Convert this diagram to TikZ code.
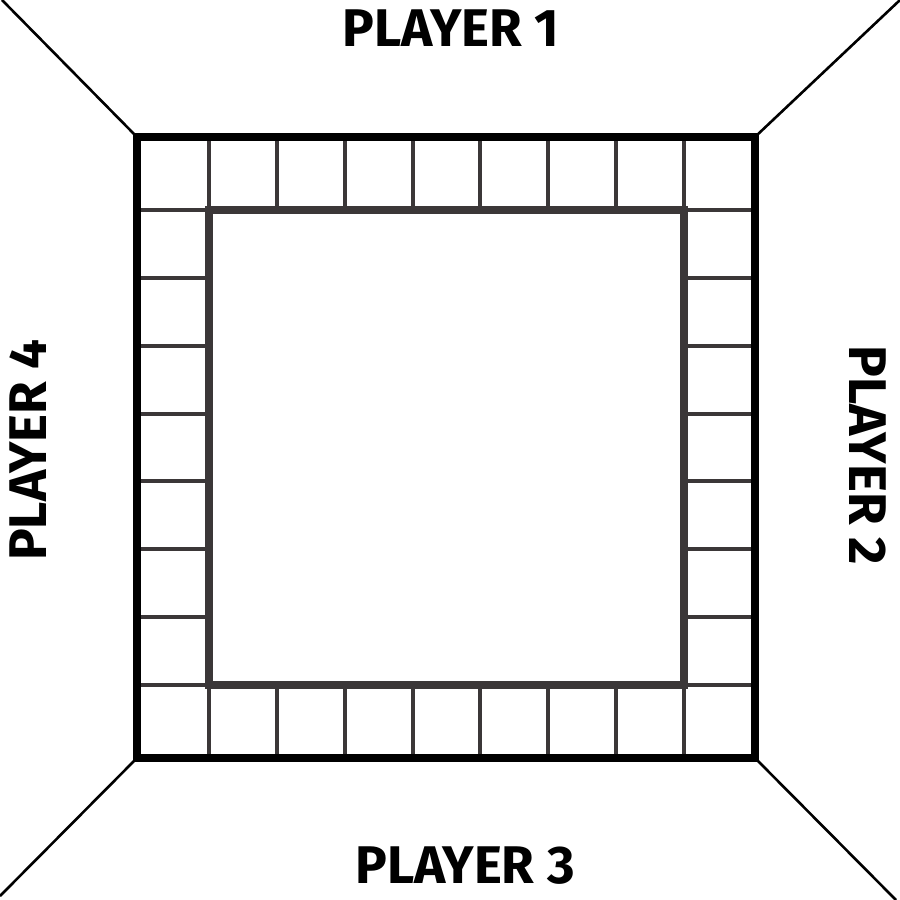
\documentclass[tikz,border=0pt]{standalone}
\usepackage{fontspec}
\setmainfont{Fira Sans}
\definecolor{boardgray}{HTML}{3B3738}
\begin{document}
\begin{tikzpicture}[x=1pt,y=-1pt,
  outer/.style={line width=8pt,draw=black},
  inner/.style={line width=7.5pt,draw=boardgray},
  cell/.style={line width=4pt,draw=boardgray,line cap=round},
  diag/.style={line width=2.6pt,draw=black},
  lbl/.style={font=\fontsize{53}{56}\selectfont\bfseries,inner sep=0pt}]
\useasboundingbox (0,0) rectangle (900,900);
% diagonals
\draw[diag] (2,0) -- (136,136);
\draw[diag] (900,0) -- (756,136);
\draw[diag] (136,759) -- (0,896);
\draw[diag] (756,759) -- (896,900);
% top and bottom row dividers
\foreach \i in {0,...,7}{
  \pgfmathsetmacro{\xx}{209+\i*67.857}
  \draw[cell] (\xx,138) -- (\xx,210);
  \draw[cell] (\xx,685) -- (\xx,757);
}
% left and right column dividers
\foreach \i in {0,...,7}{
  \pgfmathsetmacro{\yy}{210+\i*67.857}
  \draw[cell] (138,\yy) -- (209,\yy);
  \draw[cell] (684,\yy) -- (754,\yy);
}
% squares
\draw[inner] (209,210) rectangle (684,685);
\draw[outer] (137,137) rectangle (755,758);
% labels
\node[lbl] (p1) at (451,28) {PLAYER 1};
\node[lbl] (p3) at (465,866) {PLAYER 3};
\node[lbl,rotate=90] (p4) at (28,450) {PLAYER 4};
\node[lbl,rotate=-90] (p2) at (868,455) {PLAYER 2};
\end{tikzpicture}
\end{document}
